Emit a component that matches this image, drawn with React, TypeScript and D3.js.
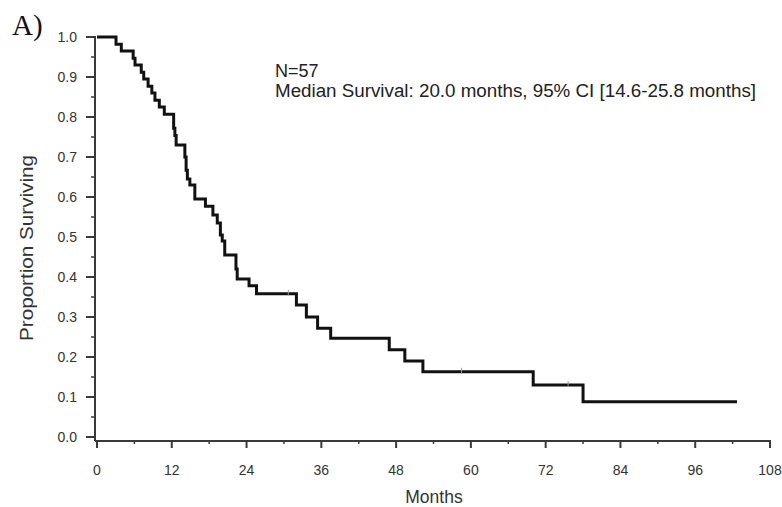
import React from "react";
import * as d3 from "d3";

// Kaplan-Meier step values
const stepMonths = [0, 3.05, 3.9, 5.8, 6.1, 7.1, 7.5, 8.2, 8.8, 9.3, 10.0, 10.8, 12.3, 12.5, 12.7, 14.1, 14.3, 14.5, 14.9, 15.7, 17.4, 18.6, 19.3, 19.8, 20.1, 20.5, 22.3, 22.5, 24.4, 25.6, 32.0, 33.6, 35.4, 37.5, 46.9, 49.4, 52.3, 70.0, 78.0, 102.7];
const stepSurvival = [1.0, 0.982, 0.965, 0.947, 0.93, 0.912, 0.895, 0.877, 0.86, 0.842, 0.825, 0.807, 0.772, 0.754, 0.73, 0.70, 0.667, 0.645, 0.63, 0.595, 0.577, 0.555, 0.535, 0.505, 0.49, 0.455, 0.42, 0.395, 0.378, 0.358, 0.33, 0.30, 0.272, 0.247, 0.218, 0.19, 0.163, 0.13, 0.088, 0.088];
const censorMonths = [30.7, 58.5, 75.6];
const censorSurvival = [0.358, 0.163, 0.13];

const xTicks = [0, 12, 24, 36, 48, 60, 72, 84, 96, 108];
const xMinorTicks = [6, 18, 30, 42, 54, 66, 78, 90, 102];
const yTicks = [0, 0.1, 0.2, 0.3, 0.4, 0.5, 0.6, 0.7, 0.8, 0.9, 1.0];
const yMinorTicks = [0.05, 0.15, 0.25, 0.35, 0.45, 0.55, 0.65, 0.75, 0.85, 0.95];

const panelLabel = "A)";
const annotationN = "N=57";
const annotationMedian = "Median Survival: 20.0 months, 95% CI [14.6-25.8 months]";
const xTitle = "Months";
const yTitle = "Proportion Surviving";

export default function App() {
  const width = 782;
  const height = 507;
  const x = d3.scaleLinear().domain([0, 108]).range([97, 770]);
  const y = d3.scaleLinear().domain([0, 1]).range([437, 37]);
  const axisX = 95;
  const axisY = 441;

  const pts: [number, number][] = stepMonths.map((m, i) => [m, stepSurvival[i]]);
  const line = d3
    .line<[number, number]>()
    .x((d) => x(d[0]))
    .y((d) => y(d[1]))
    .curve(d3.curveStepAfter);

  const sans = "'Liberation Sans', Arial, sans-serif";
  const axisColor = "#3a3a3a";
  const textColor = "#333";

  return (
    <svg
      width={width}
      height={height}
      style={{ position: "absolute", left: 0, top: 0, background: "#fff" }}
    >
      <rect x={0} y={0} width={width} height={height} fill="#fff" />
      {/* panel label */}
      <text x={12} y={35} fontFamily="'Liberation Serif', 'Times New Roman', serif" fontSize={29} fill="#111">
        {panelLabel}
      </text>

      {/* axes lines */}
      <line x1={axisX} y1={36} x2={axisX} y2={axisY} stroke={axisColor} strokeWidth={2} />
      <line x1={axisX} y1={axisY} x2={x(108) + 1} y2={axisY} stroke={axisColor} strokeWidth={2} />

      {/* y ticks */}
      {yTicks.map((t) => (
        <g key={"y" + t}>
          <line x1={axisX - 9} x2={axisX} y1={y(t)} y2={y(t)} stroke={axisColor} strokeWidth={2} />
          <text
            x={77}
            y={y(t) + 5}
            textAnchor="end"
            fontFamily={sans}
            fontSize={14}
            fill={textColor}
          >
            {d3.format(".1f")(t)}
          </text>
        </g>
      ))}
      {yMinorTicks.map((t) => (
        <line key={"ym" + t} x1={axisX - 4} x2={axisX} y1={y(t)} y2={y(t)} stroke={axisColor} strokeWidth={1.5} />
      ))}

      {/* x ticks */}
      {xTicks.map((t) => (
        <g key={"x" + t}>
          <line x1={x(t)} x2={x(t)} y1={axisY} y2={axisY + 7} stroke={axisColor} strokeWidth={2} />
          <text
            x={x(t)}
            y={475}
            textAnchor="middle"
            fontFamily={sans}
            fontSize={14}
            fill={textColor}
          >
            {t}
          </text>
        </g>
      ))}
      {xMinorTicks.map((t) => (
        <line key={"xm" + t} x1={x(t)} x2={x(t)} y1={axisY} y2={axisY + 3} stroke={axisColor} strokeWidth={1.5} />
      ))}

      {/* axis titles */}
      <text x={434} y={503} textAnchor="middle" fontFamily={sans} fontSize={17.5} fill={textColor}>
        {xTitle}
      </text>
      <text
        transform={`translate(33, ${248}) rotate(-90)`}
        textAnchor="middle"
        fontFamily={sans}
        fontSize={17.5}
        fill={textColor}
        textLength={186}
        lengthAdjust="spacingAndGlyphs"
      >
        {yTitle}
      </text>

      {/* annotation */}
      <text x={275} y={77} fontFamily={sans} fontSize={18} fill="#222">
        {annotationN}
      </text>
      <text
        x={275}
        y={97}
        fontFamily={sans}
        fontSize={18}
        fill="#222"
        textLength={481}
        lengthAdjust="spacingAndGlyphs"
      >
        {annotationMedian}
      </text>

      {/* survival curve */}
      <path d={line(pts) || ""} fill="none" stroke="#111" strokeWidth={3} strokeLinejoin="miter" />

      {/* censor marks */}
      {censorMonths.map((m, i) => (
        <line
          key={"c" + i}
          x1={x(m)}
          x2={x(m)}
          y1={y(censorSurvival[i]) - 4}
          y2={y(censorSurvival[i]) + 2}
          stroke="#999"
          strokeWidth={1}
        />
      ))}
    </svg>
  );
}
